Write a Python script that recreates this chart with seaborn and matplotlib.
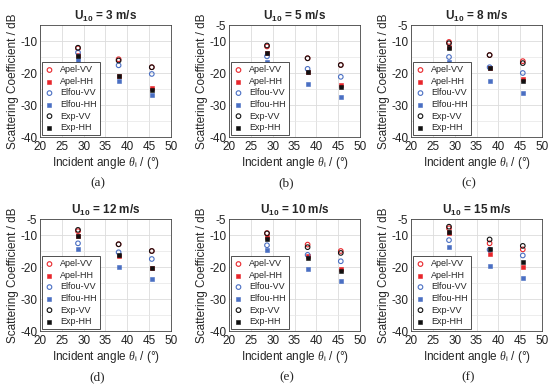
import matplotlib
matplotlib.use("Agg")
import matplotlib.pyplot as plt
import seaborn as sns
import numpy as np
import pandas as pd

sns.set_style("white")
plt.rcParams['font.family'] = ['Liberation Sans', 'DejaVu Sans']
plt.rcParams['axes.unicode_minus'] = False
plt.rcParams['mathtext.fontset'] = 'custom'
plt.rcParams['mathtext.rm'] = 'Liberation Sans'
plt.rcParams['mathtext.it'] = 'Liberation Serif:italic'
plt.rcParams['mathtext.bf'] = 'Liberation Sans:bold'

angles = [28.7, 38.0, 45.6]
speeds = [3, 5, 8, 12, 10, 15]
letters = ['(a)', '(b)', '(c)', '(d)', '(e)', '(f)']

# values per panel, one list per series: [28.7, 38.0, 45.6]
apel_vv = [[-12.3, -15.7, -18.2], [-11.7, -15.4, -17.5], [-10.3, -14.4, -16.3],
           [-8.8, -12.9, -15.0], [-9.4, -13.0, -15.0], [-7.9, -12.6, -14.5]]
apel_hh = [[-14.5, -20.8, -24.8], [-13.8, -19.8, -23.6], [-12.0, -18.4, -21.8],
           [-10.3, -16.6, -20.3], [-10.7, -16.5, -20.6], [-9.3, -16.0, -20.1]]
elfou_vv = [[-13.6, -17.6, -20.3], [-14.8, -18.7, -21.2], [-15.0, -18.2, -20.0],
            [-12.6, -15.4, -17.5], [-13.2, -16.2, -18.2], [-11.6, -14.6, -16.4]]
elfou_hh = [[-15.9, -22.4, -26.8], [-16.6, -23.3, -27.6], [-16.7, -22.5, -26.3],
            [-14.3, -20.1, -23.9], [-14.6, -20.6, -24.4], [-13.7, -19.6, -23.3]]
exp_vv = [[-12.1, -16.1, -18.2], [-11.4, -15.4, -17.5], [-10.7, -14.4, -16.9],
          [-8.4, -12.9, -15.0], [-9.5, -13.8, -15.6], [-7.4, -11.4, -13.4]]
exp_hh = [[-14.8, -20.9, -25.3], [-13.6, -19.8, -24.3], [-12.3, -18.4, -22.5],
          [-10.3, -16.4, -20.3], [-11.2, -17.3, -21.3], [-9.0, -14.5, -18.5]]

red = '#e8262b'
blue = '#4a6fc3'
black = '#111111'
series = [
    ('Apel-VV', apel_vv, red, 'o'),
    ('Apel-HH', apel_hh, red, '*'),
    ('Elfou-VV', elfou_vv, blue, 'o'),
    ('Elfou-HH', elfou_hh, blue, '*'),
    ('Exp-VV', exp_vv, black, 'o'),
    ('Exp-HH', exp_hh, black, '*'),
]

fig = plt.figure(figsize=(5.5, 3.92), dpi=100)
W, H = 550.0, 392.0
lefts = [40, 229, 411]
tops = [25, 219]
aw, ah = 131, 112

for i, spd in enumerate(speeds):
    r, c = divmod(i, 3)
    ax = fig.add_axes([lefts[c] / W, 1 - (tops[r] + ah) / H, aw / W, ah / H])
    for name, vals, col, mk in series:
        df = pd.DataFrame({'angle': angles, 'sc': vals[i]})
        if mk == 'o':
            sns.scatterplot(data=df, x='angle', y='sc', ax=ax, marker='o', s=11,
                            facecolors='none', edgecolor=col, linewidth=0.8,
                            label=name, zorder=3)
        else:
            sns.scatterplot(data=df, x='angle', y='sc', ax=ax, marker='s', s=7,
                            color=col, edgecolor=col, linewidth=0.4,
                            label=name, zorder=3)
    ax.set_xlim(20, 50)
    ax.set_ylim(-40, -5)
    ax.set_xticks([20, 25, 30, 35, 40, 45, 50])
    if i == 0:
        ax.set_yticks([-40, -30, -20, -10])
    else:
        ax.set_yticks([-40, -30, -20, -10, -5])
    ax.set_yticks([-35, -25, -15], minor=True)
    ax.grid(True, which='major', color='#dcdcdc', linewidth=0.6)
    ax.grid(True, which='minor', axis='y', color='#e6e6e6', linewidth=0.5)
    ax.set_axisbelow(True)
    ax.tick_params(labelsize=8.5, direction='in', length=2, colors='#222222', pad=2)
    ax.tick_params(axis='x', pad=3)
    ax.tick_params(which='minor', length=0)
    for sp in ax.spines.values():
        sp.set_color('#444444')
        sp.set_linewidth(0.6)
    ax.set_xlabel(r'Incident angle $\theta_\mathrm{i}$ / (°)', fontsize=8.5, labelpad=1)
    ax.set_ylabel('Scattering Coefficient / dB', fontsize=8.5, labelpad=1)
    ax.set_title(r'$\mathbf{U_{10}}$ = %d m/s' % spd, fontsize=8.5, fontweight='bold', pad=4)
    leg = ax.legend(loc='lower left', fontsize=6.5, frameon=True, fancybox=False,
                    handlelength=1.0, handletextpad=0.7, labelspacing=0.28,
                    borderpad=0.35, borderaxespad=0.2, framealpha=1)
    leg.get_frame().set_edgecolor('#333333')
    leg.get_frame().set_linewidth(0.6)
    cx = (lefts[c] + aw / 2 - 8) / W
    fig.text(cx, 1 - (tops[r] + ah + 46) / H, letters[i], ha='center', va='center',
             fontsize=9.5, family='Liberation Serif')

fig.savefig('out.png', dpi=100)
